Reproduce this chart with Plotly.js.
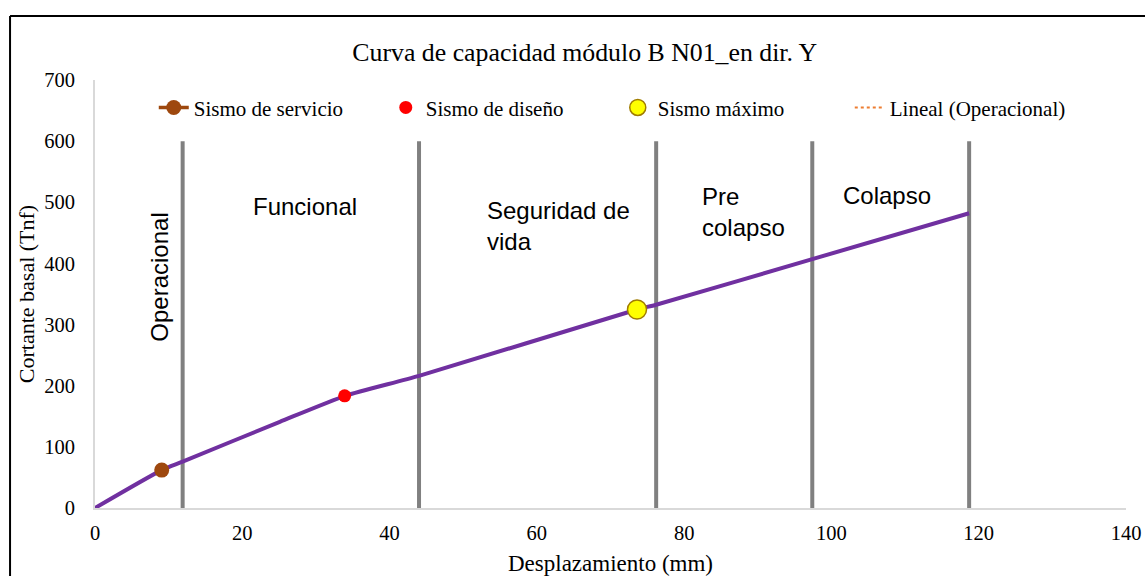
<!DOCTYPE html>
<html>
<head>
<meta charset="utf-8">
<script src="https://cdn.plot.ly/plotly-3.0.1.min.js"></script>
<style>
  html, body { margin: 0; padding: 0; background: #fff; overflow: hidden; }
  #grafico { width: 1145px; height: 576px; overflow: hidden; }
</style>
</head>
<body>
<div id="grafico"></div>
<script>
// curva de capacidad
var desplazamiento = [0, 9.06, 11.9, 25.1, 34, 44, 73.6, 76.2, 97.4, 118.7];
var cortante = [0, 62, 75.7, 141, 183.5, 216, 324.7, 332.5, 407, 482];

// puntos de desempeño
var servicioX = [9.06], servicioY = [62];
var disenoX = [33.9], disenoY = [183.5];
var maximoX = [73.6], maximoY = [324.7];

// tendencia lineal (operacional)
var linealX = [0, 9.06];
var linealY = [0, 62];

// límites de los rangos de desempeño
var limites = [11.9, 44.0, 76.2, 97.4, 118.7];
var alturaLimite = 600;

var rangos = ['Operacional', 'Funcional', 'Seguridad de<br>vida', 'Pre<br>colapso', 'Colapso'];
var rangoX = [8.8, 28.5, 53.0, 82.1, 107.6];
var rangoY = [378, 493, 462, 484, 511];

var serif = 'Liberation Serif, Times New Roman, serif';
var sans = 'Liberation Sans, Arial, sans-serif';

var dados = [
    {
        x: linealX, y: linealY,
        name: 'Lineal (Operacional)',
        mode: 'lines',
        line: {color: '#ED7D31', width: 2, dash: 'dot'},
        legendrank: 4
    },
    {
        x: desplazamiento, y: cortante,
        name: 'Curva',
        mode: 'lines',
        line: {color: '#7030A0', width: 4, shape: 'spline', smoothing: 0.6},
        showlegend: false
    },
    {
        x: servicioX, y: servicioY,
        name: 'Sismo de servicio',
        mode: 'lines+markers',
        line: {color: '#9E480E', width: 3.5},
        marker: {color: '#9E480E', size: 15},
        legendrank: 1
    },
    {
        x: disenoX, y: disenoY,
        name: 'Sismo de diseño',
        mode: 'markers',
        marker: {color: '#FF0000', size: 13},
        legendrank: 2
    },
    {
        x: maximoX, y: maximoY,
        name: 'Sismo máximo',
        mode: 'markers',
        marker: {color: '#FFFF00', size: 19, line: {color: '#A07C00', width: 1.5}},
        legendrank: 3
    }
];

var formas = [];
for (var i = 0; i < limites.length; i++) {
    formas.push({
        type: 'line', xref: 'x', yref: 'y',
        x0: limites[i], x1: limites[i], y0: 0, y1: alturaLimite,
        line: {color: '#808080', width: 4},
        layer: 'below'
    });
}
// marco del gráfico: sólo se ven los bordes superior e izquierdo
formas.push({
    type: 'line', xref: 'paper', yref: 'paper',
    x0: -0.0824, x1: 1.05, y0: 1.1495, y1: 1.1495,
    line: {color: '#000000', width: 2}
});
formas.push({
    type: 'line', xref: 'paper', yref: 'paper',
    x0: -0.0824, x1: -0.0824, y0: -0.2, y1: 1.1495,
    line: {color: '#000000', width: 2}
});

var notas = [];
for (var j = 0; j < rangos.length; j++) {
    notas.push({
        x: rangoX[j], y: rangoY[j], xref: 'x', yref: 'y',
        text: rangos[j],
        showarrow: false,
        textangle: j === 0 ? -90 : 0,
        xanchor: (j === 2 || j === 3) ? 'left' : 'center',
        align: 'left',
        font: {family: sans, size: 24, color: '#000000'}
    });
}

var estilo = {
    width: 1145,
    height: 576,
    margin: {l: 95, r: 19, t: 80, b: 68},
    paper_bgcolor: '#ffffff',
    plot_bgcolor: '#ffffff',
    title: {
        text: 'Curva de capacidad módulo B N01_en dir. Y',
        font: {family: serif, size: 25.8, color: '#000000'},
        x: 0.475, xref: 'paper', xanchor: 'center',
        y: 0.91, yref: 'container', yanchor: 'middle'
    },
    xaxis: {
        range: [0, 140],
        dtick: 20,
        showgrid: false,
        zeroline: false,
        showline: true,
        linecolor: '#D9D9D9',
        linewidth: 2,
        ticks: '',
        ticklabelstandoff: 5,
        tickfont: {family: serif, size: 20.5, color: '#000000'},
        title: {text: 'Desplazamiento (mm)', font: {family: serif, size: 23, color: '#000000'}, standoff: 16}
    },
    yaxis: {
        range: [0, 700],
        dtick: 100,
        showgrid: false,
        zeroline: false,
        showline: true,
        linecolor: '#D9D9D9',
        linewidth: 2,
        ticks: '',
        ticklabelstandoff: 14,
        tickfont: {family: serif, size: 20.5, color: '#000000'},
        title: {text: 'Cortante basal (Tnf)', font: {family: serif, size: 22, color: '#000000'}, standoff: 3}
    },
    legend: {
        orientation: 'h',
        x: 0.057, xanchor: 'left',
        y: 0.935, yanchor: 'middle',
        bgcolor: 'rgba(255,255,255,0)',
        entrywidth: 187,
        entrywidthmode: 'pixels',
        traceorder: 'normal',
        font: {family: serif, size: 21, color: '#000000'}
    },
    shapes: formas,
    annotations: notas,
    showlegend: true
};

Plotly.newPlot('grafico', dados, estilo, {displayModeBar: false, staticPlot: true});
</script>
</body>
</html>
